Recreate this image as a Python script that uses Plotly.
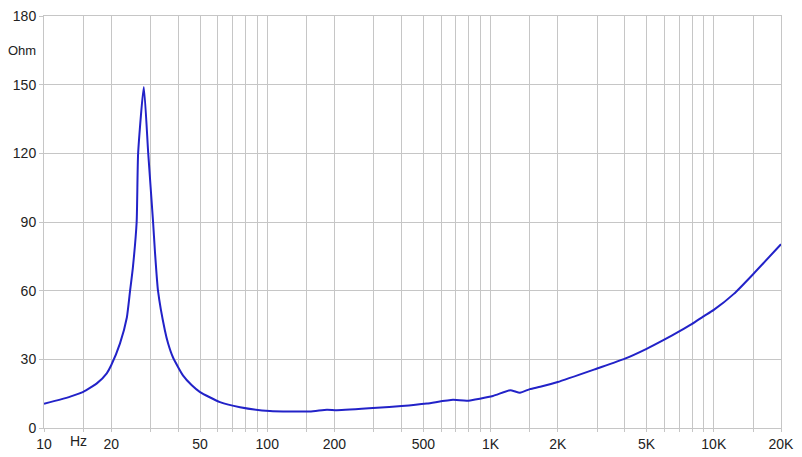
import plotly.graph_objects as go
import math

freq_hz = [10, 11.8, 13.2, 15, 17.3, 19.1, 20, 21.9, 23.5, 24.3, 25.0, 26.0, 26.4, 28.0, 29.3,
           30.8, 31.4, 32.4, 34.8, 36.0, 37.8, 41.9, 45.8, 50, 61.4, 75.5, 102.8, 155, 185,
           205, 310, 400, 519, 679, 784, 1025, 1223, 1355, 1500, 1670, 2000, 3000, 4000,
           5000, 6000, 7000, 8000, 9000, 10000, 12300, 15000, 20000]
impedance_ohm = [10.6, 12.4, 13.8, 15.8, 19.6, 23.9, 27.4, 37.0, 48.3, 60, 70, 90, 120, 149, 120,
                 90, 77, 60, 42.6, 36.8, 30.9, 23.0, 18.8, 15.7, 11.3, 9.1, 7.4, 7.2, 8.0,
                 7.8, 8.8, 9.6, 10.7, 12.3, 11.9, 14.0, 16.5, 15.4, 17.0, 18.0, 20.1, 26.0,
                 30.3, 34.6, 38.6, 42.2, 45.5, 48.8, 51.6, 58.6, 67.2, 80.3]

grid_freqs = [10, 15, 20, 30, 40, 50, 60, 70, 80, 90,
              100, 150, 200, 300, 400, 500, 600, 700, 800, 900,
              1000, 1500, 2000, 3000, 4000, 5000, 6000, 7000, 8000, 9000,
              10000, 15000, 20000]
labeled = {10: "10", 20: "20", 50: "50", 100: "100", 200: "200", 500: "500",
           1000: "1K", 2000: "2K", 5000: "5K", 10000: "10K", 20000: "20K"}
grid_text = [labeled.get(f, "") for f in grid_freqs]
y_ticks = [0, 30, 60, 90, 120, 150, 180]

font_family = "Liberation Sans, Arial, sans-serif"
grid_color = "#c6c6c6"
text_color = "#222222"

fig = go.Figure()
fig.add_trace(go.Scatter(x=freq_hz, y=impedance_ohm, mode="lines",
                         line=dict(color="#2222c8", width=2, shape="spline", smoothing=0.5),
                         hoverinfo="skip"))

fig.update_layout(
    width=794, height=449,
    margin=dict(l=36, r=21, t=8, b=29, pad=0),
    paper_bgcolor="white", plot_bgcolor="white",
    showlegend=False,
    font=dict(family=font_family, size=14, color=text_color),
    xaxis=dict(type="log", range=[1, math.log10(20000)], automargin=False,
               tickmode="array", tickvals=grid_freqs, ticktext=grid_text,
               showgrid=True, gridcolor=grid_color, gridwidth=1,
               ticks="outside", ticklen=3, tickcolor=grid_color,
               showline=True, linecolor=grid_color, mirror=True,
               zeroline=False, tickangle=0, ticklabeloverflow="allow"),
    yaxis=dict(range=[0, 180], tickmode="array", tickvals=y_ticks, automargin=False,
               showgrid=True, gridcolor=grid_color, gridwidth=1,
               ticks="outside", ticklen=4, tickcolor=grid_color,
               showline=True, linecolor=grid_color, mirror=True,
               zeroline=False, ticklabeloverflow="allow"),
    annotations=[
        dict(text="Ohm", xref="paper", x=0, xanchor="right", xshift=-6,
             yref="y", y=165, yanchor="middle", showarrow=False,
             font=dict(family=font_family, size=13, color=text_color)),
        dict(text="Hz", xref="x", x=math.log10(14.2), xanchor="center",
             yref="paper", y=0, yanchor="top", yshift=-3, showarrow=False,
             font=dict(family=font_family, size=14, color=text_color)),
    ],
)

fig.write_html("out.html")
